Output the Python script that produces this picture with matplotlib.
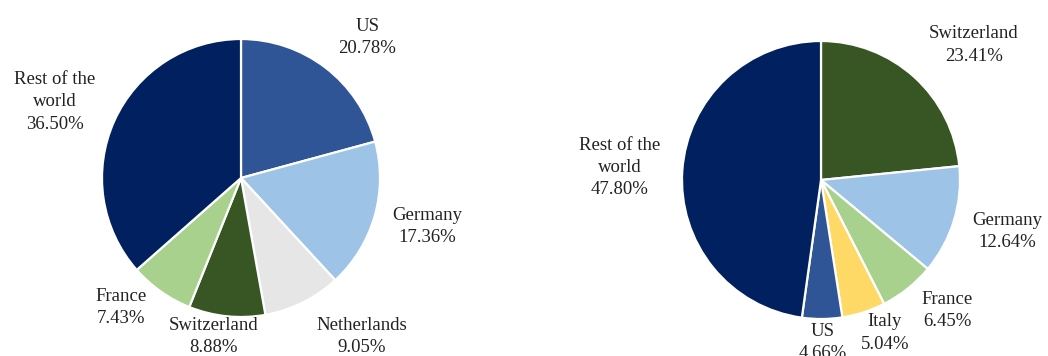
import matplotlib.pyplot as plt

# left pie: share by country
left_labels = ['US', 'Germany', 'Netherlands', 'Switzerland', 'France', 'Rest of the\nworld']
left_values = [20.78, 17.36, 9.05, 8.88, 7.43, 36.50]
left_colors = ['#2F5597', '#9DC3E6', '#E7E6E6', '#375623', '#A9D18E', '#002060']

# right pie
right_labels = ['Switzerland', 'Germany', 'France', 'Italy', 'US', 'Rest of the\nworld']
right_values = [23.41, 12.64, 6.45, 5.04, 4.66, 47.80]
right_colors = ['#375623', '#9DC3E6', '#A9D18E', '#FFD966', '#2F5597', '#002060']

# label placement in units of pie radius (layout only)
left_label_pos = [(0.91, 1.01), (1.34, -0.35), (0.87, -1.14), (-0.20, -1.14), (-0.86, -0.93), (-1.34, 0.55)]
right_label_pos = [(1.10, 0.97), (1.34, -0.37), (0.91, -0.94), (0.46, -1.10), (0.01, -1.17), (-1.45, 0.09)]

W, H, DPI = 1048, 356, 100
fig = plt.figure(figsize=(W / DPI, H / DPI), dpi=DPI)
plt.rcParams['font.family'] = ['Liberation Serif', 'DejaVu Serif']


def draw_pie(cx, cy, r, values, colors, labels, label_pos):
    ax = fig.add_axes([0, 0, 1, 1])
    ax.patch.set_alpha(0)
    ax.pie(values, colors=colors, startangle=90, counterclock=False,
           wedgeprops=dict(edgecolor='white', linewidth=1.6))
    ax.set_aspect('auto')
    ax.set_xlim(-cx / r, (W - cx) / r)
    ax.set_ylim((cy - H) / r, cy / r)
    ax.axis('off')
    for lab, val, (x, y) in zip(labels, values, label_pos):
        ax.text(x, y, f'{lab}\n{val:.2f}%', ha='center', va='center',
                fontsize=13.5, color='#222222', linespacing=1.42)


draw_pie(241, 178, 139, left_values, left_colors, left_labels, left_label_pos)
draw_pie(821, 180, 139, right_values, right_colors, right_labels, right_label_pos)

fig.savefig('out.png', dpi=DPI)
